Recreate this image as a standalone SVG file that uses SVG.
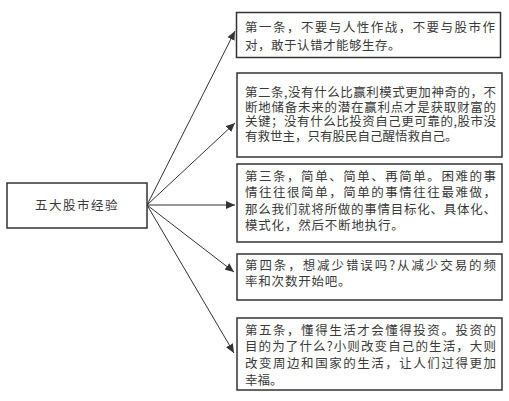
<svg xmlns="http://www.w3.org/2000/svg" width="509" height="401" viewBox="0 0 509 401">
<defs>
<style>
.box{fill:#fff;stroke:#333;stroke-width:1.5}
.t{font-family:"Noto Sans CJK SC","Noto Sans",sans-serif;font-size:12.5px;fill:#3a3a3a}
.c{stroke:#333;stroke-width:1;fill:none;marker-end:url(#ah)}
</style>
<marker id="ah" markerUnits="userSpaceOnUse" markerWidth="10" markerHeight="8" refX="9" refY="4" orient="auto">
<path d="M0,0 L9,4 L0,8 Z" fill="#333"/>
</marker>
</defs>
<rect width="509" height="401" fill="#fff"/>
<g id="connectors">
<line class="c" x1="147" y1="205" x2="235" y2="31"/>
<line class="c" x1="147" y1="205" x2="235" y2="123"/>
<line class="c" x1="147" y1="205" x2="235" y2="205"/>
<line class="c" x1="147" y1="205" x2="234" y2="272"/>
<line class="c" x1="147" y1="205" x2="234" y2="353"/>
</g>
<g id="main">
<rect class="box" x="7" y="183" width="140" height="45"/>
<text class="t" x="77" y="210" text-anchor="middle" letter-spacing="1.5" font-size="13">五大股市经验</text>
</g>
<g id="rule1">
<rect class="box" x="236.5" y="12.5" width="264" height="45"/>
<text class="t" x="245" y="31.5" textLength="250" lengthAdjust="spacing">第一条，不要与人性作战，不要与股市作</text>
<text class="t" x="245" y="49.5" letter-spacing="0.5">对，敢于认错才能够生存。</text>
</g>
<g id="rule2">
<rect class="box" x="237" y="73" width="265" height="84"/>
<text class="t" x="245" y="96.5" textLength="251" lengthAdjust="spacing">第二条,没有什么比赢利模式更加神奇的，不</text>
<text class="t" x="245" y="111.5" textLength="251" lengthAdjust="spacing">断地储备未来的潜在赢利点才是获取财富的</text>
<text class="t" x="245" y="126" textLength="251" lengthAdjust="spacing">关键；没有什么比投资自己更可靠的,股市没</text>
<text class="t" x="245" y="140.5">有救世主，只有股民自己醒悟救自己。</text>
</g>
<g id="rule3">
<rect class="box" x="237" y="164" width="265" height="78"/>
<text class="t" x="245" y="180.5" textLength="251" lengthAdjust="spacing">第三条，简单、简单、再简单。困难的事</text>
<text class="t" x="245" y="197" textLength="251" lengthAdjust="spacing">情往往很简单，简单的事情往往最难做，</text>
<text class="t" x="245" y="213.5" textLength="251" lengthAdjust="spacing">那么我们就将所做的事情目标化、具体化、</text>
<text class="t" x="245" y="229.5" letter-spacing="0.8">模式化，然后不断地执行。</text>
</g>
<g id="rule4">
<rect class="box" x="237" y="254" width="265" height="46"/>
<text class="t" x="245" y="269.5" textLength="251" lengthAdjust="spacing">第四条，想减少错误吗?从减少交易的频</text>
<text class="t" x="245" y="286" letter-spacing="0.8">率和次数开始吧。</text>
</g>
<g id="rule5">
<rect class="box" x="237" y="318" width="265" height="72"/>
<text class="t" x="245" y="334.5" textLength="251" lengthAdjust="spacing">第五条，懂得生活才会懂得投资。投资的</text>
<text class="t" x="245" y="351" textLength="251" lengthAdjust="spacing">目的为了什么?小则改变自己的生活，大则</text>
<text class="t" x="245" y="368" textLength="251" lengthAdjust="spacing">改变周边和国家的生活，让人们过得更加</text>
<text class="t" x="245" y="384.5">幸福。</text>
</g>
</svg>
